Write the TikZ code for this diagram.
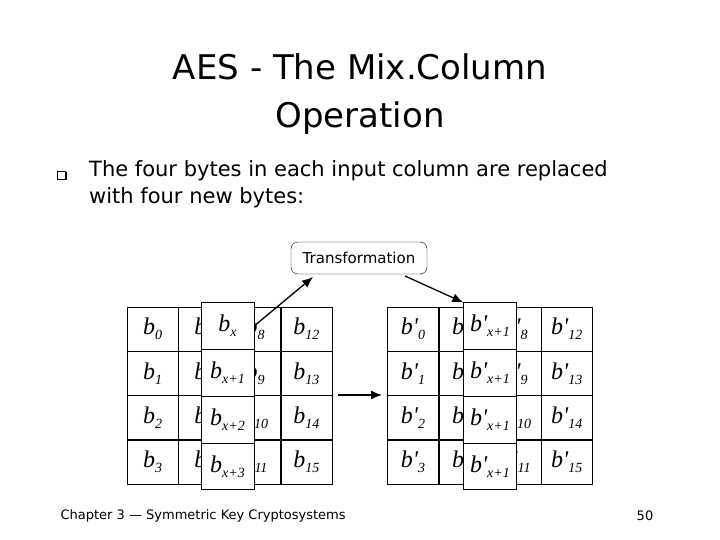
\documentclass[tikz,border=0pt]{standalone}
\usepackage{fontspec}
\setmainfont{DejaVu Sans}
\newfontfamily\cellfont{Liberation Serif}
\usetikzlibrary{arrows.meta,shadows}
\newcommand{\bsub}[2]{{\cellfont\itshape b#1\raisebox{-5pt}{\fontsize{14}{15}\selectfont #2}}}
\begin{document}
\begin{tikzpicture}[x=1pt,y=-1pt,
  cell/.style={draw,thin,minimum width=51pt,minimum height=44.5pt,inner sep=0pt,font=\fontsize{24}{26}\selectfont},
  over/.style={draw,thin,fill=white,minimum width=53pt,minimum height=46.75pt,inner sep=0pt,font=\fontsize{24}{26}\selectfont},
  arr/.style={-{Latex[length=11pt,width=9pt]},line width=1.3pt}]
\useasboundingbox (0,0) rectangle (720,540);
\node[font=\fontsize{34}{48}\selectfont,align=center] (title) at (360,94) {AES - The Mix.Column\\Operation};
\node[draw,fill=white,minimum size=8pt,inner sep=0pt,drop shadow={shadow xshift=1.5pt,shadow yshift=-1.5pt,fill=black,opacity=1}] (bul) at (61,175) {};
\node[anchor=north west,font=\fontsize{21}{27}\selectfont,align=left,inner sep=0pt] (txt) at (89,160) {The four bytes in each input column are replaced\\with four new bytes:};
\foreach \c/\i in {0/0,1/4,2/8,3/12}{
  \foreach \r in {0,1,2,3}{
    \pgfmathtruncatemacro\n{\i+\r}
    \node[cell] (L\c\r) at (152.5+51.25*\c,329+44.25*\r) {\bsub{}{\n}};
    \node[cell] (R\c\r) at (413+51.25*\c,329+44.25*\r) {\bsub{'}{\n}};
  }}
\node[over] (o0) at (227.5,326) {\bsub{}{x}};
\node[over] (o1) at (227.5,372.75) {\bsub{}{x+1}};
\node[over] (o2) at (227.5,419.5) {\bsub{}{x+2}};
\node[over] (o3) at (227.5,466.25) {\bsub{}{x+3}};
\foreach \k in {0,1,2,3}{
  \node[over] (p\k) at (490,326+46.75*\k) {\bsub{'}{x+1}};}
\node[draw,rounded corners=7pt,minimum width=136pt,minimum height=32pt,font=\fontsize{15}{17}\selectfont] (tr) at (359,258) {Transformation};
\coordinate (e1) at (313,277);
\coordinate (s2) at (405,276);
\draw[arr] (o0.east) -- (e1);
\draw[arr] (s2) -- (p0.north west);
\coordinate (m1) at (338,395); \coordinate (m2) at (382,395);
\draw[arr] (m1) -- (m2);
\node[anchor=west,font=\fontsize{13}{15}\selectfont] (ft) at (57,516) {Chapter 3 --- Symmetric Key Cryptosystems};
\node[font=\fontsize{13}{15}\selectfont] (pg) at (645,516) {50};
\end{tikzpicture}
\end{document}
